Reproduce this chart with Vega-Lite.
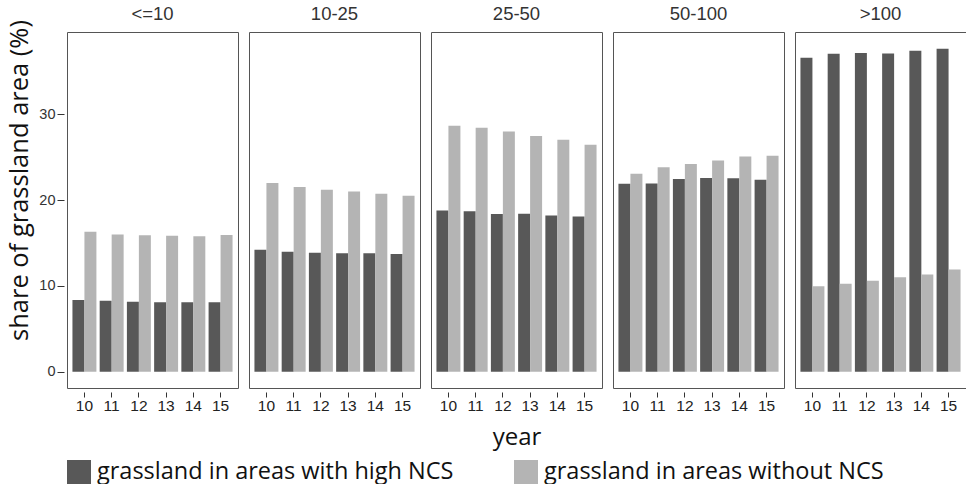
{
  "$schema": "https://vega.github.io/schema/vega-lite/v6.json",
  "padding": {"left": 7, "top": 4, "right": 0, "bottom": 0},
  "background": "white",
  "data": {"values": [
    {"size": "<=10", "year": "10", "type": "grassland in areas with high NCS", "share": 8.36},
    {"size": "<=10", "year": "11", "type": "grassland in areas with high NCS", "share": 8.28},
    {"size": "<=10", "year": "12", "type": "grassland in areas with high NCS", "share": 8.15},
    {"size": "<=10", "year": "13", "type": "grassland in areas with high NCS", "share": 8.1},
    {"size": "<=10", "year": "14", "type": "grassland in areas with high NCS", "share": 8.1},
    {"size": "<=10", "year": "15", "type": "grassland in areas with high NCS", "share": 8.1},
    {"size": "<=10", "year": "10", "type": "grassland in areas without NCS", "share": 16.3},
    {"size": "<=10", "year": "11", "type": "grassland in areas without NCS", "share": 16.0},
    {"size": "<=10", "year": "12", "type": "grassland in areas without NCS", "share": 15.9},
    {"size": "<=10", "year": "13", "type": "grassland in areas without NCS", "share": 15.85},
    {"size": "<=10", "year": "14", "type": "grassland in areas without NCS", "share": 15.8},
    {"size": "<=10", "year": "15", "type": "grassland in areas without NCS", "share": 15.95},
    {"size": "10-25", "year": "10", "type": "grassland in areas with high NCS", "share": 14.22},
    {"size": "10-25", "year": "11", "type": "grassland in areas with high NCS", "share": 13.99},
    {"size": "10-25", "year": "12", "type": "grassland in areas with high NCS", "share": 13.87},
    {"size": "10-25", "year": "13", "type": "grassland in areas with high NCS", "share": 13.8},
    {"size": "10-25", "year": "14", "type": "grassland in areas with high NCS", "share": 13.8},
    {"size": "10-25", "year": "15", "type": "grassland in areas with high NCS", "share": 13.72},
    {"size": "10-25", "year": "10", "type": "grassland in areas without NCS", "share": 21.99},
    {"size": "10-25", "year": "11", "type": "grassland in areas without NCS", "share": 21.53},
    {"size": "10-25", "year": "12", "type": "grassland in areas without NCS", "share": 21.21},
    {"size": "10-25", "year": "13", "type": "grassland in areas without NCS", "share": 21.02},
    {"size": "10-25", "year": "14", "type": "grassland in areas without NCS", "share": 20.75},
    {"size": "10-25", "year": "15", "type": "grassland in areas without NCS", "share": 20.51},
    {"size": "25-50", "year": "10", "type": "grassland in areas with high NCS", "share": 18.8},
    {"size": "25-50", "year": "11", "type": "grassland in areas with high NCS", "share": 18.7},
    {"size": "25-50", "year": "12", "type": "grassland in areas with high NCS", "share": 18.38},
    {"size": "25-50", "year": "13", "type": "grassland in areas with high NCS", "share": 18.4},
    {"size": "25-50", "year": "14", "type": "grassland in areas with high NCS", "share": 18.2},
    {"size": "25-50", "year": "15", "type": "grassland in areas with high NCS", "share": 18.1},
    {"size": "25-50", "year": "10", "type": "grassland in areas without NCS", "share": 28.67},
    {"size": "25-50", "year": "11", "type": "grassland in areas without NCS", "share": 28.44},
    {"size": "25-50", "year": "12", "type": "grassland in areas without NCS", "share": 28.0},
    {"size": "25-50", "year": "13", "type": "grassland in areas without NCS", "share": 27.47},
    {"size": "25-50", "year": "14", "type": "grassland in areas without NCS", "share": 27.04},
    {"size": "25-50", "year": "15", "type": "grassland in areas without NCS", "share": 26.46},
    {"size": "50-100", "year": "10", "type": "grassland in areas with high NCS", "share": 21.9},
    {"size": "50-100", "year": "11", "type": "grassland in areas with high NCS", "share": 21.95},
    {"size": "50-100", "year": "12", "type": "grassland in areas with high NCS", "share": 22.46},
    {"size": "50-100", "year": "13", "type": "grassland in areas with high NCS", "share": 22.58},
    {"size": "50-100", "year": "14", "type": "grassland in areas with high NCS", "share": 22.54},
    {"size": "50-100", "year": "15", "type": "grassland in areas with high NCS", "share": 22.38},
    {"size": "50-100", "year": "10", "type": "grassland in areas without NCS", "share": 23.08},
    {"size": "50-100", "year": "11", "type": "grassland in areas without NCS", "share": 23.82},
    {"size": "50-100", "year": "12", "type": "grassland in areas without NCS", "share": 24.2},
    {"size": "50-100", "year": "13", "type": "grassland in areas without NCS", "share": 24.63},
    {"size": "50-100", "year": "14", "type": "grassland in areas without NCS", "share": 25.1},
    {"size": "50-100", "year": "15", "type": "grassland in areas without NCS", "share": 25.18},
    {"size": ">100", "year": "10", "type": "grassland in areas with high NCS", "share": 36.6},
    {"size": ">100", "year": "11", "type": "grassland in areas with high NCS", "share": 37.06},
    {"size": ">100", "year": "12", "type": "grassland in areas with high NCS", "share": 37.14},
    {"size": ">100", "year": "13", "type": "grassland in areas with high NCS", "share": 37.1},
    {"size": ">100", "year": "14", "type": "grassland in areas with high NCS", "share": 37.4},
    {"size": ">100", "year": "15", "type": "grassland in areas with high NCS", "share": 37.65},
    {"size": ">100", "year": "10", "type": "grassland in areas without NCS", "share": 9.95},
    {"size": ">100", "year": "11", "type": "grassland in areas without NCS", "share": 10.26},
    {"size": ">100", "year": "12", "type": "grassland in areas without NCS", "share": 10.6},
    {"size": ">100", "year": "13", "type": "grassland in areas without NCS", "share": 11.0},
    {"size": ">100", "year": "14", "type": "grassland in areas without NCS", "share": 11.34},
    {"size": ">100", "year": "15", "type": "grassland in areas without NCS", "share": 11.9}
  ]},
  "facet": {
    "column": {
      "field": "size",
      "type": "nominal",
      "sort": ["<=10", "10-25", "25-50", "50-100", ">100"],
      "title": "year",
      "header": {
        "labelOrient": "top",
        "labelFontSize": 18.5,
        "labelColor": "#333333",
        "labelFont": "Liberation Sans",
        "labelPadding": 8,
        "titleOrient": "bottom",
        "titleFont": "Open Sans",
        "titleFontSize": 24,
        "titleFontWeight": "normal",
        "titleColor": "#111111",
        "titlePadding": 2
      }
    }
  },
  "spacing": 9,
  "spec": {
    "width": 171,
    "height": 356,
    "mark": {"type": "bar"},
    "encoding": {
      "x": {
        "field": "year",
        "type": "ordinal",
        "scale": {"paddingInner": 0.12, "paddingOuter": 0.2},
        "axis": {
          "title": null,
          "labelAngle": 0,
          "labelFont": "Liberation Sans",
          "labelFontSize": 15.5,
          "labelColor": "#222222",
          "labelPadding": 1,
          "domain": false,
          "offset": 3,
          "tickSize": 5,
          "tickColor": "#333333"
        }
      },
      "xOffset": {"field": "type", "type": "nominal", "sort": ["grassland in areas with high NCS", "grassland in areas without NCS"]},
      "y": {
        "field": "share",
        "type": "quantitative",
        "scale": {"domain": [-1.9, 39.6], "nice": false, "zero": false},
        "axis": {
          "title": "share of grassland area (%)",
          "values": [0, 10, 20, 30],
          "grid": false,
          "domain": false,
          "offset": 2,
          "tickSize": 7,
          "tickColor": "#333333",
          "labelFont": "Liberation Sans",
          "labelFontSize": 14.5,
          "labelColor": "#333333",
          "labelPadding": 2,
          "titleFont": "Open Sans",
          "titleFontSize": 25.5,
          "titleFontWeight": "normal",
          "titleColor": "#111111",
          "titlePadding": 6,
          "titleY": 148
        }
      },
      "y2": {"datum": 0},
      "color": {
        "field": "type",
        "type": "nominal",
        "sort": ["grassland in areas with high NCS", "grassland in areas without NCS"],
        "scale": {"range": ["#585858", "#b4b4b4"]},
        "legend": {
          "title": null,
          "orient": "none",
          "legendX": 0,
          "legendY": 428,
          "direction": "horizontal",
          "symbolType": "square",
          "symbolSize": 576,
          "symbolStrokeWidth": 0,
          "labelFont": "Open Sans",
          "labelFontSize": 23.5,
          "labelColor": "#111111",
          "labelLimit": 600,
          "labelOffset": 6,
          "columnPadding": 60
        }
      }
    }
  },
  "config": {
    "view": {"stroke": "#555555", "strokeWidth": 1}
  }
}
